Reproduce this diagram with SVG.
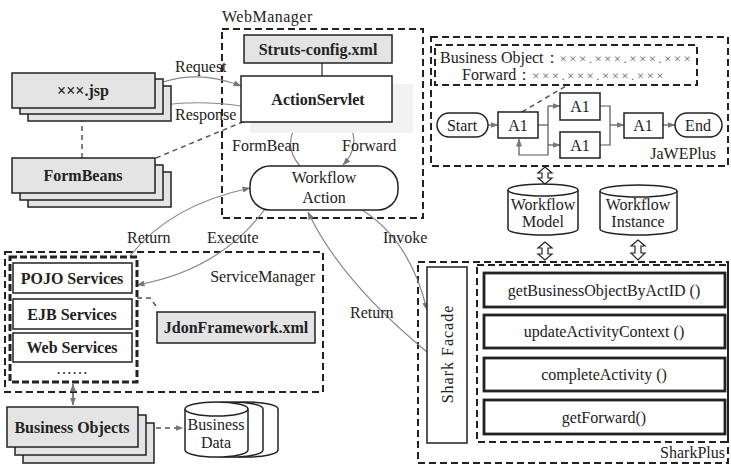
<svg xmlns="http://www.w3.org/2000/svg" width="731" height="467" viewBox="0 0 731 467" font-family="'Liberation Serif','Times New Roman',serif">
<style>
text{font-family:'Liberation Serif','Times New Roman',serif;fill:#222;font-size:16px}
.b{font-weight:bold}
.x{font-size:13px;fill:#666;letter-spacing:2.4px}
.box{fill:#fff;stroke:#222;stroke-width:1.5}
.gbox{fill:#e4e4e4;stroke:#222;stroke-width:1.5}
.thick{fill:#fff;stroke:#222;stroke-width:2.8}
.dash{fill:none;stroke:#222;stroke-width:2;stroke-dasharray:7 4}
.dashthick{fill:none;stroke:#222;stroke-width:3;stroke-dasharray:7 3}
.conn{fill:none;stroke:#888;stroke-width:1.2}
.flow{fill:none;stroke:#555;stroke-width:1.2}
.dconn{fill:none;stroke:#555;stroke-width:1.5;stroke-dasharray:5 4}
.hollow{fill:#fff;stroke:#222;stroke-width:1.2}
</style>
<defs>
<marker id="ah" viewBox="0 0 8 6" refX="7.5" refY="3" markerWidth="8" markerHeight="6" orient="auto-start-reverse" markerUnits="userSpaceOnUse">
<path d="M0,0 L8,3 L0,6 z" fill="#777"/>
</marker>
</defs>
<rect width="731" height="467" fill="#fff"/>

<!-- containers -->
<g id="WebManager">
<rect class="dash" x="222" y="29" width="201" height="189"/>
<text x="222" y="22" letter-spacing="0.5">WebManager</text>
</g>
<g id="JaWEPlus">
<rect class="dash" x="431" y="37" width="297" height="129"/>
<text x="716" y="159" text-anchor="end">JaWEPlus</text>
</g>
<g id="ServiceManager">
<rect class="dash" x="5" y="252" width="318" height="140"/>
<text x="315" y="282" text-anchor="end">ServiceManager</text>
</g>
<g id="SharkPlus">
<rect class="dash" x="418" y="262" width="310" height="201"/>
<text x="725" y="458" text-anchor="end">SharkPlus</text>
</g>

<!-- connectors -->
<g id="connectors">
<path class="conn" d="M163,82 Q200,70 241,86" marker-end="url(#ah)"/>
<path class="conn" d="M241,106 Q200,100 163,105" marker-end="url(#ah)"/>
<text x="175" y="72">Request</text>
<text x="175" y="120">Response</text>
<line class="dconn" x1="82" y1="108" x2="82" y2="158"/>
<line class="dconn" x1="156" y1="158" x2="245" y2="121"/>
<line x1="322" y1="63" x2="322" y2="76" stroke="#222" stroke-width="1.2"/>
<path class="conn" d="M300,166 Q282,145 298,123" marker-end="url(#ah)"/>
<path class="conn" d="M348,122 Q362,145 343,165" marker-end="url(#ah)"/>
<text x="232" y="151">FormBean</text>
<text x="342" y="151">Forward</text>
<path class="conn" d="M130,256 Q170,205 250,188" marker-end="url(#ah)"/>
<path class="conn" d="M265,209 Q220,270 137,285" marker-end="url(#ah)"/>
<text x="127" y="243">Return</text>
<text x="207" y="243">Execute</text>
<path class="conn" d="M362,210 Q410,240 427,310" marker-end="url(#ah)"/>
<path class="conn" d="M427,352 Q340,280 308,212" marker-end="url(#ah)"/>
<text x="383" y="243">Invoke</text>
<text x="350" y="318">Return</text>
<!-- JaWE flow -->
<line class="flow" x1="488" y1="125" x2="498" y2="125" marker-end="url(#ah)"/>
<polyline class="flow" points="538,125 548,125"/>
<polyline class="flow" points="548,106 548,155 519,155 519,139" marker-end="url(#ah)"/>
<line class="flow" x1="548" y1="106" x2="560" y2="106" marker-end="url(#ah)"/>
<line class="flow" x1="548" y1="145" x2="560" y2="145" marker-end="url(#ah)"/>
<polyline class="flow" points="600,106 610,106 610,145 600,145"/>
<line class="flow" x1="610" y1="125" x2="624" y2="125" marker-end="url(#ah)"/>
<line class="flow" x1="663" y1="125" x2="675" y2="125" marker-end="url(#ah)"/>
<line class="dconn" x1="522" y1="112" x2="566" y2="86"/>
<!-- hollow double arrows -->
<polygon class="hollow" points="545,167 552,173 548,173 548,178 552,178 545,184 538,178 542,178 542,173 538,173"/>
<polygon class="hollow" points="545,242 552,248 548,248 548,254 552,254 545,260 538,254 542,254 542,248 538,248"/>
<polygon class="hollow" points="638,240 645,246 641,246 641,253 645,253 638,260 631,253 635,253 635,246 631,246"/>
<!-- service side -->
<polyline class="dconn" points="137,298 150,298 156,306"/>
<line class="dconn" x1="73" y1="384" x2="73" y2="405" marker-start="url(#ah)" marker-end="url(#ah)"/>
<line class="dconn" x1="156" y1="428" x2="183" y2="428" marker-end="url(#ah)"/>
</g>

<!-- nodes -->
<g id="jsp">
<rect class="gbox" x="28" y="86" width="143" height="35"/>
<rect class="gbox" x="20" y="79" width="143" height="35"/>
<rect class="gbox" x="12" y="73" width="143" height="35"/>
<text class="b" x="83" y="96" text-anchor="middle">×××.jsp</text>
</g>
<g id="FormBeans">
<rect class="gbox" x="28" y="172" width="143" height="35"/>
<rect class="gbox" x="20" y="165" width="143" height="35"/>
<rect class="gbox" x="12" y="158" width="143" height="35"/>
<text class="b" x="83" y="181" text-anchor="middle">FormBeans</text>
</g>
<g id="StrutsConfig">
<rect class="gbox" x="244" y="35" width="148" height="28" stroke-width="2.5"/>
<text class="b" x="318" y="55" text-anchor="middle">Struts-config.xml</text>
</g>
<g id="ActionServlet">
<rect x="250" y="84" width="163" height="49" fill="#f2f2f2"/>
<rect class="box" x="241" y="76" width="151" height="46" stroke-width="2"/>
<text class="b" x="318" y="105" text-anchor="middle">ActionServlet</text>
</g>
<g id="WorkflowAction">
<rect class="box" x="250" y="166" width="148" height="44" rx="20"/>
<text x="324" y="183" text-anchor="middle">Workflow</text>
<text x="324" y="203" text-anchor="middle">Action</text>
</g>
<g id="BusinessObjectInfo">
<rect class="dash" x="435" y="45" width="262" height="40"/>
<text x="440" y="63">Business Object：<tspan class="x">×××.×××.×××.×××</tspan></text>
<text x="462" y="80">Forward：<tspan class="x">×××.×××.×××.×××</tspan></text>
</g>
<g id="Start">
<rect class="box" x="437" y="113" width="51" height="24" rx="12"/>
<text x="462" y="131" text-anchor="middle">Start</text>
</g>
<g id="A1a">
<rect class="box" x="498" y="112" width="40" height="26" stroke-width="2"/>
<text x="518" y="131" text-anchor="middle">A1</text>
</g>
<g id="A1b">
<rect class="box" x="560" y="93" width="40" height="27"/>
<text x="580" y="112" text-anchor="middle">A1</text>
</g>
<g id="A1c">
<rect class="box" x="560" y="132" width="40" height="26"/>
<text x="580" y="151" text-anchor="middle">A1</text>
</g>
<g id="A1d">
<rect class="box" x="624" y="113" width="39" height="25"/>
<text x="643" y="131" text-anchor="middle">A1</text>
</g>
<g id="End">
<rect class="box" x="675" y="113" width="47" height="24" rx="12"/>
<text x="698" y="131" text-anchor="middle">End</text>
</g>
<g id="WorkflowModel">
<path class="box" d="M508,190 A35,6 0 0 1 578,190 L578,229 A35,6 0 0 1 508,229 Z"/>
<path class="box" d="M508,190 A35,6 0 0 0 578,190" fill="none"/>
<text x="543" y="210" text-anchor="middle">Workflow</text>
<text x="543" y="227" text-anchor="middle">Model</text>
</g>
<g id="WorkflowInstance">
<path class="box" d="M600,191 A38.5,6 0 0 1 677,191 L677,229 A38.5,6 0 0 1 600,229 Z"/>
<path class="box" d="M600,191 A38.5,6 0 0 0 677,191" fill="none"/>
<text x="638" y="210" text-anchor="middle">Workflow</text>
<text x="638" y="227" text-anchor="middle">Instance</text>
</g>
<g id="SharkFacade">
<rect class="box" x="427" y="267" width="40" height="176" stroke-width="2.2"/>
<text transform="translate(453,354) rotate(-90)" text-anchor="middle" letter-spacing="1">Shark  Facade</text>
</g>
<g id="SharkMethods">
<rect class="dash" x="477" y="265" width="251" height="177"/>
</g>
<g id="getBusinessObjectByActID">
<rect class="thick" x="484" y="273" width="241" height="34"/>
<text x="604" y="296" text-anchor="middle">getBusinessObjectByActID ()</text>
</g>
<g id="updateActivityContext">
<rect class="thick" x="484" y="315" width="241" height="33"/>
<text x="604" y="337" text-anchor="middle">updateActivityContext ()</text>
</g>
<g id="completeActivity">
<rect class="thick" x="484" y="358" width="241" height="33"/>
<text x="604" y="380" text-anchor="middle">completeActivity ()</text>
</g>
<g id="getForward">
<rect class="thick" x="484" y="400" width="241" height="34"/>
<text x="604" y="423" text-anchor="middle">getForward()</text>
</g>
<g id="Services">
<rect class="dashthick" x="10" y="257" width="127" height="125"/>
</g>
<g id="POJOServices">
<rect class="box" x="13" y="263" width="119" height="30" stroke-width="2"/>
<text class="b" x="72" y="284" text-anchor="middle">POJO Services</text>
</g>
<g id="EJBServices">
<rect class="box" x="13" y="299" width="119" height="30" stroke-width="2"/>
<text class="b" x="72" y="320" text-anchor="middle">EJB Services</text>
</g>
<g id="WebServices">
<rect class="box" x="13" y="333" width="119" height="29" stroke-width="2"/>
<text class="b" x="72" y="353" text-anchor="middle">Web Services</text>
</g>
<g id="more">
<text x="72" y="374" text-anchor="middle" font-size="12">……</text>
</g>
<g id="JdonFramework">
<rect class="gbox" x="157" y="312" width="158" height="31" stroke-width="2.2"/>
<text class="b" x="236" y="333" text-anchor="middle">JdonFramework.xml</text>
</g>
<g id="BusinessObjects">
<rect class="gbox" x="23" y="423" width="131" height="40"/>
<rect class="gbox" x="15" y="415" width="131" height="40"/>
<rect class="gbox" x="7" y="407" width="131" height="40"/>
<text class="b" x="72" y="433" text-anchor="middle">Business Objects</text>
</g>
<g id="BusinessData">
<path class="box" d="M215,409 A31.5,7 0 0 1 278,409 L278,450 A31.5,7 0 0 1 215,450 Z"/>
<path class="box" d="M200,409 A31.5,7 0 0 1 263,409 L263,450 A31.5,7 0 0 1 200,450 Z"/>
<path class="box" d="M185,409 A31.5,7 0 0 1 248,409 L248,450 A31.5,7 0 0 1 185,450 Z"/>
<path class="box" d="M185,409 A31.5,7 0 0 0 248,409" fill="none"/>
<text x="216" y="430" text-anchor="middle">Business</text>
<text x="216" y="448" text-anchor="middle">Data</text>
</g>
</svg>
